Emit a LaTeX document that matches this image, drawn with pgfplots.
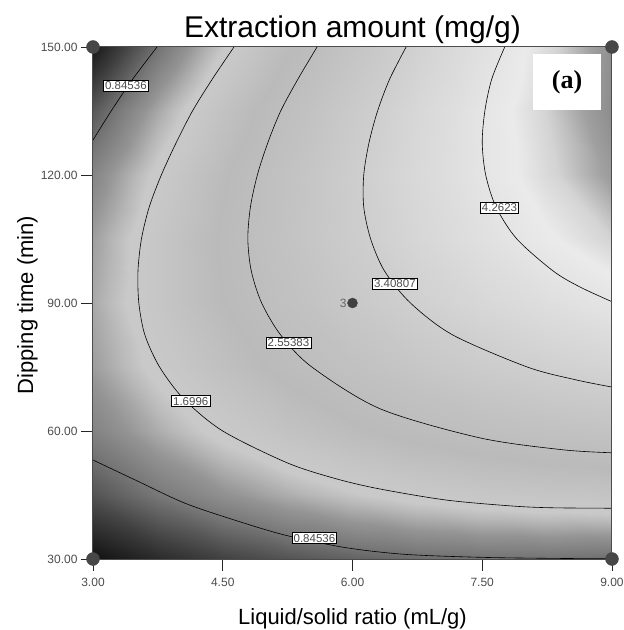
\documentclass[border=0pt]{standalone}
\usepackage{fontspec}
\setmainfont{Liberation Sans}
\newfontfamily\serifb{Liberation Serif}
\usepackage{pgfplots}
\pgfplotsset{compat=1.18}

\pgfplotsset{colormap={dx}{gray(0pt)=(0.05); gray(45pt)=(0.25); gray(90pt)=(0.47); gray(120pt)=(0.58); gray(145pt)=(0.72); gray(160pt)=(0.79); gray(180pt)=(0.78); gray(230pt)=(0.73); gray(280pt)=(0.76); gray(340pt)=(0.81); gray(400pt)=(0.87); gray(445pt)=(0.92); gray(470pt)=(0.83); gray(495pt)=(0.63); gray(520pt)=(0.52)}}

\begin{document}
\begin{tikzpicture}
\begin{axis}[
  name=ax, width=519pt, height=512pt, scale only axis,
  xmin=3, xmax=9, ymin=30, ymax=150,
  xtick={3,4.5,6,7.5,9}, ytick={30,60,90,120,150},
  tick align=outside, major tick length=12pt,
  xtick pos=bottom, ytick pos=left,
  tick style={black!85, line width=0.8pt},
  axis line style={black!70, line width=1pt},
  /pgf/number format/fixed, /pgf/number format/fixed zerofill,
  /pgf/number format/precision=2, /pgf/number format/assume math mode=true,
  xticklabel style={font=\fontsize{12}{14}\selectfont, text=black!70, yshift=-4pt},
  yticklabel style={font=\fontsize{12}{14}\selectfont, text=black!70},
  colormap name=dx, point meta min=0, point meta max=5.2,
  axis on top, clip=false,
]
\addplot[surf, shader=interp, mesh/cols=9, point meta=explicit] table[x=x, y=y, meta=z] {
x y z
3 30 0.035
3.75 30 0.264
4.5 30 0.455
5.25 30 0.609
6 30 0.725
6.75 30 0.804
7.5 30 0.845
8.25 30 0.849
9 30 0.815

3 45 0.605
3.75 45 0.900
4.5 45 1.158
5.25 45 1.377
6 45 1.560
6.75 45 1.705
7.5 45 1.813
8.25 45 1.882
9 45 1.915

3 60 1.014
3.75 60 1.375
4.5 60 1.699
5.25 60 1.985
6 60 2.234
6.75 60 2.445
7.5 60 2.619
8.25 60 2.755
9 60 2.854

3 75 1.262
3.75 75 1.689
4.5 75 2.080
5.25 75 2.432
6 75 2.747
6.75 75 3.024
7.5 75 3.265
8.25 75 3.467
9 75 3.632

3 90 1.350
3.75 90 1.844
4.5 90 2.300
5.25 90 2.719
6 90 3.100
6.75 90 3.444
7.5 90 3.750
8.25 90 4.019
9 90 4.250

3 105 1.277
3.75 105 1.837
4.5 105 2.360
5.25 105 2.844
6 105 3.292
6.75 105 3.702
7.5 105 4.075
8.25 105 4.409
9 105 4.707

3 120 1.044
3.75 120 1.670
4.5 120 2.259
5.25 120 2.810
6 120 3.324
6.75 120 3.800
7.5 120 4.239
8.25 120 4.640
9 120 5.004

3 135 0.650
3.75 135 1.342
4.5 135 1.998
5.25 135 2.615
6 135 3.195
6.75 135 3.737
7.5 135 4.243
8.25 135 4.710
9 135 5.140

3 150 0.095
3.75 150 0.854
4.5 150 1.575
5.25 150 2.259
6 150 2.905
6.75 150 3.514
7.5 150 4.085
8.25 150 4.619
9 150 5.115
};
% contour 0.84536 (upper left)
\addplot[black, line width=0.6pt, smooth] coordinates {(3,128.2) (3.21,135) (3.46,142.5) (3.74,150)};
% contour 0.84536 (bottom)
\addplot[black, line width=0.6pt, smooth] coordinates {(3,53.2) (3.49,48.5) (4.06,43.1) (4.64,39.1) (5.22,35.6) (5.91,32.7) (6.60,31.1) (7.47,30.4) (8.3,30.15) (9,30.05)};
% contour 1.6996
\addplot[black, line width=0.6pt, smooth] coordinates {(4.63,150) (4.38,142.5) (4.15,135) (3.96,127.5) (3.79,120) (3.65,112.5) (3.56,105) (3.52,97.5) (3.53,90) (3.60,82.5) (3.77,75) (4.05,67.5) (4.50,60) (5.25,52.5) (5.82,48.75) (6.32,46.4) (7.09,43.8) (7.86,42.4) (8.32,42.0) (9,41.9)};
% contour 2.55383
\addplot[black, line width=0.6pt, smooth] coordinates {(5.59,150) (5.37,142.5) (5.17,135) (5.02,127.5) (4.90,120) (4.82,112.5) (4.79,105) (4.83,97.5) (4.95,90) (5.17,82.5) (5.53,75) (6.32,65.2) (7.47,58.4) (8.43,55.6) (9,54.9)};
% contour 3.40807
\addplot[black, line width=0.6pt, smooth] coordinates {(6.62,150) (6.43,142.5) (6.29,135) (6.19,127.5) (6.13,120) (6.13,112.5) (6.21,105) (6.37,97.5) (6.67,90) (7.16,82.5) (8.02,75) (8.58,72) (9,70.3)};
% contour 4.2623
\addplot[black, line width=0.6pt, smooth] coordinates {(7.76,150) (7.61,142.5) (7.53,135) (7.50,127.5) (7.54,120) (7.66,112.5) (7.90,105) (8.32,97.5) (8.63,93.75) (9,90.3)};
% contour labels
\tikzset{clab/.style={fill=white, draw=black, line width=0.5pt, inner sep=1.5pt, font=\fontsize{11.5}{13}\selectfont, text=black!70}}
\node[clab] at (axis cs:3.38,140.9) {0.84536};
\node[clab] at (axis cs:4.13,67.0) {1.6996};
\node[clab] at (axis cs:5.26,80.7) {2.55383};
\node[clab] at (axis cs:6.49,94.5) {3.40807};
\node[clab] at (axis cs:7.70,112.3) {4.2623};
\node[clab] at (axis cs:5.56,34.9) {0.84536};
% design points
\addplot[only marks, mark=*, mark size=5pt, color=black!75] coordinates {(6,90)};
\node[anchor=east, inner sep=0.5pt, font=\fontsize{12}{13}\selectfont, text=black!60] at (axis cs:5.94,90) {3};
\addplot[only marks, mark=*, mark size=6.5pt, color=black!72] coordinates {(3,30) (3,150) (9,30) (9,150)};
% panel tag
\fill[white] (axis cs:8.087,135.24) rectangle (axis cs:8.873,148.36);
\node[font=\serifb\bfseries\fontsize{26}{28}\selectfont] at (axis cs:8.48,141.8) {(a)};
% titles
\node[anchor=base, font=\fontsize{30}{34}\selectfont] at (rel axis cs:0.5,1.018) {Extraction amount (mg/g)};
\node[anchor=base, font=\fontsize{22}{26}\selectfont] at (rel axis cs:0.5,-0.127) {Liquid/solid ratio (mL/g)};
\node[anchor=base, rotate=90, font=\fontsize{22}{26}\selectfont] at (rel axis cs:-0.1156,0.496) {Dipping time (min)};
\end{axis}
\pgfresetboundingbox
\path (ax.south west) ++(-93pt,-71pt) rectangle ++(624pt,630pt);
\end{tikzpicture}
\end{document}
